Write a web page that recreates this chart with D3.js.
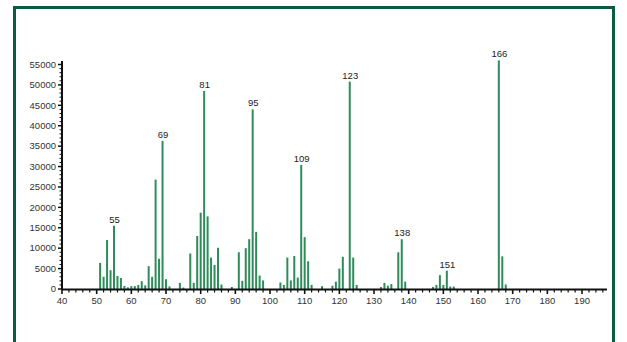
<!DOCTYPE html>
<html><head><meta charset="utf-8">
<script src="https://cdn.jsdelivr.net/npm/d3@7"></script>
<style>
html,body{margin:0;padding:0;background:#fff;}
svg{display:block;}
text{font-family:"Liberation Sans",Arial,Helvetica,sans-serif;}
</style></head>
<body>
<script>
const mz = [51,52,53,54,55,56,57,58,59,60,61,62,63,64,65,66,67,68,69,70,71,74,75,77,78,79,80,81,82,83,84,85,86,89,91,92,93,94,95,96,97,98,103,104,105,106,107,108,109,110,111,112,115,118,119,120,121,123,124,125,132,133,134,135,137,138,139,147,148,149,150,151,152,153,166,167,168];
const intensity = [6400,3000,12000,4600,15500,3200,2700,750,400,700,700,1000,1900,900,5600,3000,26800,7400,36300,2400,650,1500,350,8700,1500,13000,18700,48500,17800,7700,5900,10100,1100,500,9000,2000,10000,12200,44000,14000,3300,2100,1600,1000,7700,2100,8100,2800,30400,12700,6800,1000,700,800,1800,5000,7900,50800,7700,1000,500,1500,800,1200,9000,12200,1800,500,1000,3400,1000,4500,600,600,56000,8000,1100];
const labeledPeaks = [55,69,81,95,109,123,138,151,166];
const xTicks = [40,50,60,70,80,90,100,110,120,130,140,150,160,170,180,190];
const yTicks = [0,5000,10000,15000,20000,25000,30000,35000,40000,45000,50000,55000];

const W = 627, H = 342;
const svg = d3.select("body").append("svg").attr("width", W).attr("height", H);

// frame
svg.append("rect").attr("x", 14.5).attr("y", 7.5).attr("width", 599).attr("height", 345)
  .attr("fill", "none").attr("stroke", "#0b5c3f").attr("stroke-width", 3);

const x = d3.scaleLinear().domain([40, 197]).range([62, 606.3]);
const y = d3.scaleLinear().domain([0, 55000]).range([289, 64.5]);

const axisColor = "#111";
const g = svg.append("g");

// bars
g.selectAll("line.bar").data(mz).enter().append("line")
  .attr("class", "bar")
  .attr("x1", d => x(d)).attr("x2", d => x(d))
  .attr("y1", y(0)).attr("y2", (d, i) => y(intensity[i]))
  .attr("stroke", "#2e8b5a").attr("stroke-width", 2);

// peak labels
g.selectAll("text.pk").data(labeledPeaks).enter().append("text")
  .attr("class", "pk")
  .attr("x", d => x(d) + 0.5)
  .attr("y", d => y(intensity[mz.indexOf(d)]) - 3)
  .attr("text-anchor", "middle")
  .attr("font-size", 9.5).attr("fill", "#222")
  .text(d => d);

// x axis
const xMinor = d3.range(40, 197.1, 2);
const xg = g.append("g").attr("transform", `translate(0,${y(0)})`);
xg.append("line").attr("x1", 62).attr("x2", 607).attr("y1", 0.5).attr("y2", 0.5)
  .attr("stroke", axisColor).attr("stroke-width", 2);
xg.selectAll("line.mt").data(xMinor.filter(v => v % 10 !== 0)).enter().append("line")
  .attr("x1", d => x(d)).attr("x2", d => x(d)).attr("y1", 0).attr("y2", 3.5)
  .attr("stroke", axisColor).attr("stroke-width", 1.2);
xg.selectAll("line.Mt").data(xTicks).enter().append("line")
  .attr("x1", d => x(d)).attr("x2", d => x(d)).attr("y1", 0).attr("y2", 5)
  .attr("stroke", axisColor).attr("stroke-width", 1.6);
xg.selectAll("text").data(xTicks).enter().append("text")
  .attr("x", d => x(d)).attr("y", 15)
  .attr("text-anchor", "middle").attr("font-size", 9.5).attr("fill", "#333")
  .text(d => d);

// y axis
const yMinor = d3.range(0, 55001, 1000);
const yg = g.append("g").attr("transform", `translate(62,0)`);
yg.append("line").attr("x1", 0).attr("x2", 0).attr("y1", y(0) + 1).attr("y2", 61)
  .attr("stroke", axisColor).attr("stroke-width", 2);
yg.selectAll("line.mt").data(yMinor.filter(v => v % 5000 !== 0)).enter().append("line")
  .attr("x1", -2.5).attr("x2", 0).attr("y1", d => y(d)).attr("y2", d => y(d))
  .attr("stroke", axisColor).attr("stroke-width", 1);
yg.selectAll("line.Mt").data(yTicks).enter().append("line")
  .attr("x1", -4).attr("x2", 0).attr("y1", d => y(d)).attr("y2", d => y(d))
  .attr("stroke", axisColor).attr("stroke-width", 1.5);
yg.selectAll("text").data(yTicks).enter().append("text")
  .attr("x", -6).attr("y", d => y(d) + 3.3)
  .attr("text-anchor", "end").attr("font-size", 9.5).attr("fill", "#333")
  .text(d => d);
</script>
</body></html>
